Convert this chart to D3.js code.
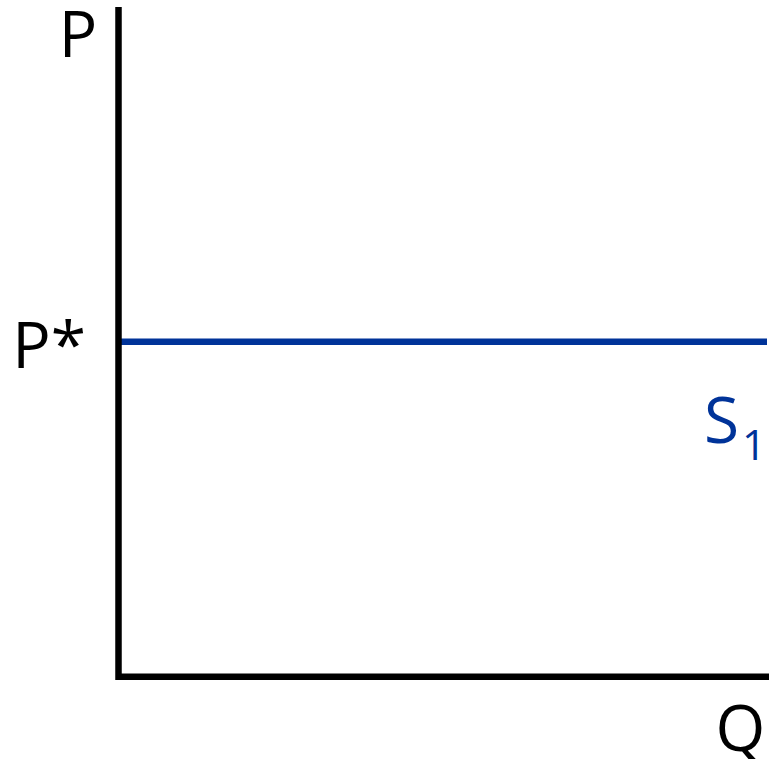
<!DOCTYPE html>
<html>
<head>
<meta charset="utf-8">
<script src="https://cdn.jsdelivr.net/npm/d3@7"></script>
<style>
  html, body { margin: 0; padding: 0; background: #fff; }
  svg { display: block; }
  text { font-family: "Open Sans", "Noto Sans", sans-serif; }
</style>
</head>
<body>
<div id="chart"></div>
<script>
// chart data
var quantityDomain = [0, 10];
var priceDomain = [0, 10];
var supplyQ = [0, 10];
var supplyP = [5, 5];
var priceTickValues = [5];
var priceTickLabels = ['P*'];
var axisLabels = ['P', 'Q'];
var curveLabels = ['S', '1'];

var graph = {
  width: 769,
  height: 759,
  left: 118.5,
  right: 767,
  top: 7,
  bottom: 676.7
};

var x = d3.scaleLinear().domain(quantityDomain).range([graph.left, graph.right]);
var y = d3.scaleLinear().domain(priceDomain).range([graph.bottom, graph.top]);

var svg = d3.select('#chart').append('svg')
  .attr('width', graph.width)
  .attr('height', graph.height);

// supply curve
var supply = supplyQ.map(function(q, i) { return { q: q, p: supplyP[i] }; });
var line = d3.line()
  .x(function(d) { return x(d.q); })
  .y(function(d) { return y(d.p); });

svg.append('path')
  .datum(supply)
  .attr('d', line)
  .attr('fill', 'none')
  .attr('stroke', '#003399')
  .attr('stroke-width', 6.5);

// axes (L shape)
svg.append('path')
  .attr('d', 'M' + x(0) + ',' + y(10) + 'L' + x(0) + ',' + y(0) + 'L' + graph.width + ',' + y(0))
  .attr('fill', 'none')
  .attr('stroke', '#000')
  .attr('stroke-width', 6.5)
  .attr('stroke-linejoin', 'miter');

// price tick labels
svg.selectAll('.ptick')
  .data(priceTickValues)
  .enter().append('text')
  .attr('class', 'ptick')
  .attr('x', 86)
  .attr('y', function(d) { return y(d) + 26; })
  .attr('text-anchor', 'end')
  .attr('font-size', 64)
  .attr('fill', '#000')
  .text(function(d, i) { return priceTickLabels[i]; });

// axis titles
svg.append('text')
  .attr('x', 78)
  .attr('y', 57)
  .attr('text-anchor', 'middle')
  .attr('font-size', 64)
  .attr('fill', '#000')
  .text(axisLabels[0]);

svg.append('text')
  .attr('x', 740.5)
  .attr('y', 751)
  .attr('text-anchor', 'middle')
  .attr('font-size', 64)
  .attr('fill', '#000')
  .text(axisLabels[1]);

// curve label
var s = svg.append('text')
  .attr('x', 704)
  .attr('y', 443)
  .attr('font-size', 64)
  .attr('fill', '#003399');
s.append('tspan').text(curveLabels[0]);
s.append('tspan')
  .attr('font-size', 42)
  .attr('dy', 17)
  .attr('dx', 3)
  .text(curveLabels[1]);
</script>
</body>
</html>
